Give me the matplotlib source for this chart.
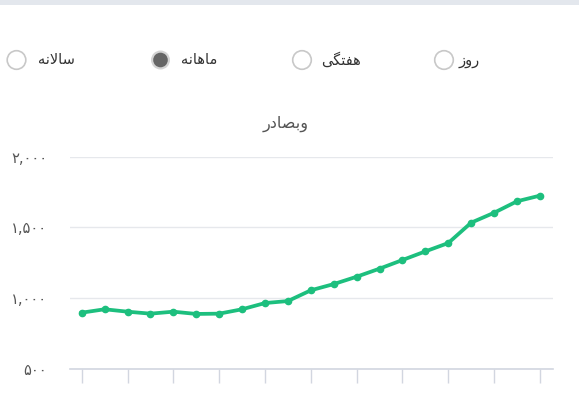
import matplotlib
matplotlib.use("Agg")
import matplotlib.pyplot as plt
from matplotlib.patches import Circle, Rectangle

# ---- data ----
values = [898, 922, 905, 891, 905, 889, 891, 922, 966, 980, 1056,
          1100, 1152, 1209, 1270, 1331, 1390, 1534, 1604, 1685, 1725]
x_idx = list(range(len(values)))
tick_positions = list(range(0, 21, 2))
y_ticks = [500, 1000, 1500, 2000]
y_tick_labels = ["\u06f5\u06f0\u06f0", "\u06f1,\u06f0\u06f0\u06f0",
                 "\u06f1,\u06f5\u06f0\u06f0", "\u06f2,\u06f0\u06f0\u06f0"]
# Persian labels, pre-shaped into presentation forms in visual (LTR) order
title_text = "\ufead\ufea9\ufe8e\ufebc\ufe91\ufeed"          # وبصادر
radio_labels = ["\ufeea\ufee7\ufefb\ufe8e\ufeb3",              # سالانه
                "\ufeea\ufee7\ufe8e\ufeeb\ufe8e\ufee3",        # ماهانه
                "\ufbfd\ufb95\ufe98\ufed4\ufeeb",              # هفتگی
                "\u0632\u0648\u0631"]                          # روز
radio_selected = [False, True, False, False]

W, H = 579, 403
fig = plt.figure(figsize=(W / 100, H / 100), dpi=100)
fig.patch.set_facecolor("white")
plt.rcParams["font.family"] = ["DejaVu Sans"]

# overlay for UI decoration in pixel coords
ov = fig.add_axes([0, 0, 1, 1])
ov.set_xlim(0, W)
ov.set_ylim(H, 0)
ov.axis("off")
ov.add_patch(Rectangle((0, 0), W, 5, color="#e3e7ed", lw=0))
circle_x = [16.5, 160.5, 302, 444]
text_x = [56, 199, 341, 469]
for cx, tx, lab, sel in zip(circle_x, text_x, radio_labels, radio_selected):
    if sel:
        ov.add_patch(Circle((cx, 60), 9.5, facecolor="#d4d4d4", edgecolor="none"))
        ov.add_patch(Circle((cx, 60), 7.3, facecolor="#666666", edgecolor="none"))
    else:
        ov.add_patch(Circle((cx, 60), 9.3, facecolor="white", edgecolor="#c8c8c8", lw=1.2))
    ov.text(tx, 60, lab, ha="center", va="center", fontsize=10.5, color="#333333")
ov.text(286, 124, title_text, ha="center", va="center", fontsize=11.5, color="#555555")

# ---- chart ----
left, right = 70 / W, 553 / W
bottom, top = 1 - 369 / H, 1 - 156.7 / H
ax = fig.add_axes([left, bottom, right - left, top - bottom])
ax.plot(x_idx, values, color="#1dbf7e", lw=2.7, marker="o", ms=4.5,
        solid_joinstyle="round", zorder=3)
ax.set_xlim(-0.51, 20.57)
ax.set_ylim(500, 2000)
ax.set_yticks(y_ticks)
ax.set_yticklabels(y_tick_labels)
ax.set_xticks(tick_positions)
ax.set_xticklabels([])
ax.tick_params(axis="y", length=0, pad=16.5, labelsize=10.5, labelcolor="#555555")
ax.tick_params(axis="x", length=10, width=1, color="#d2d6e0", direction="out")
for s in ["top", "right", "left"]:
    ax.spines[s].set_visible(False)
ax.spines["bottom"].set_color("#d2d6e0")
ax.spines["bottom"].set_linewidth(1.2)
ax.grid(axis="y", color="#e6e8ec", lw=1)
ax.set_axisbelow(True)
ax.patch.set_alpha(0)

fig.savefig("out.png", dpi=100)
